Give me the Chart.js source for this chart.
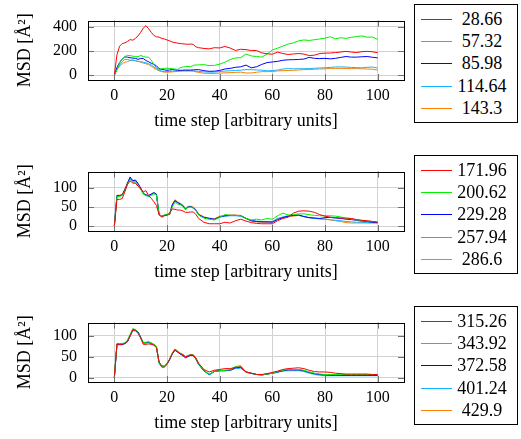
<!DOCTYPE html>
<html>
<head>
<meta charset="utf-8">
<script src="https://cdn.jsdelivr.net/npm/chart.js@4.4.1/dist/chart.umd.min.js"></script>
<style>
  body { margin: 0; background: #fff; width: 521px; height: 439px; overflow: hidden; position: relative; font-family: "Liberation Serif", serif; }
  canvas { position: absolute; left: 0; }
  .legend { position: absolute; left: 414px; width: 102px; height: 117px; border: 1px solid #000; background: #fff; }
  .row { position: absolute; left: 0; right: 0; height: 22px; }
  .row .line { position: absolute; left: 6px; width: 31px; top: 11px; height: 0; border-top: 1px solid; }
  .row .txt { position: absolute; left: 40px; width: 54px; text-align: center; font-size: 18px; line-height: 22px; top: 0; color: #000; }
</style>
</head>
<body>
<canvas id="c1" width="521" height="137" style="top:0px"></canvas>
<canvas id="c2" width="521" height="137" style="top:151px"></canvas>
<canvas id="c3" width="521" height="137" style="top:302px"></canvas>
<div class="legend" id="l1" style="top:4px"></div>
<div class="legend" id="l2" style="top:155px"></div>
<div class="legend" id="l3" style="top:306px"></div>
<script>
// time axis (shared by all panels)
const timeSteps = [0, 1, 2, 3, 4, 5, 6, 7, 8, 9, 10, 11, 12, 13, 14, 15, 16, 17, 18, 19, 20,
  21, 22, 23, 24, 25, 26, 27, 28, 29, 30, 31, 32,
  34, 36, 38, 40, 42, 44, 46, 48, 50, 52, 54, 56, 58, 60, 62, 64, 66, 68, 70,
  72, 74, 76, 78, 80, 82, 84, 86, 88, 90, 92, 94, 96, 98, 100];
const xTickValues = [0, 20, 40, 60, 80, 100];

const lineColors = ['#ff0000', '#00f000', '#0000ff', '#10b4ff', '#ff8000'];

// panel 1
const labels1 = ['28.66', '57.32', '85.98', '114.64', '143.3'];
const msd28 = [0, 170, 240, 262, 268, 280, 295, 290, 305, 325, 355, 390, 410, 385, 355, 330, 318, 315, 305, 300,
  292, 285, 275, 270, 266, 262, 260, 258, 256, 258, 255, 235, 228,
  222, 218, 228, 226, 238, 225, 205, 215, 212, 205, 205, 185, 178, 174, 192, 180, 172, 176, 180, 175,
  163, 166, 180, 183, 184, 188, 192, 198, 192, 188, 195, 198, 194, 187];
const msd57 = [0, 45, 100, 135, 155, 165, 162, 158, 155, 153, 165, 155, 150, 150, 125, 90, 62, 48, 54, 57,
  58, 57, 55, 52, 48, 62, 68, 72, 73, 70, 82, 85, 86,
  88, 80, 82, 92, 108, 130, 143, 146, 176, 160, 155, 150, 175, 209, 224, 241, 258, 268, 285, 292,
  288, 294, 300, 307, 318, 302, 310, 305, 314, 320, 325, 315, 316, 297];
const msd85 = [0, 65, 105, 135, 152, 150, 145, 142, 140, 132, 138, 138, 122, 112, 100, 90, 78, 55, 48, 45,
  41, 44, 47, 45, 42, 41, 42, 43, 43, 43, 45, 46, 47,
  38, 33, 34, 40, 52, 57, 66, 70, 84, 62, 70, 90, 105, 110, 115, 124, 128, 129, 131, 134,
  148, 140, 138, 140, 136, 140, 148, 155, 150, 150, 153, 155, 149, 144];
const msd114 = [0, 50, 85, 112, 132, 130, 125, 123, 120, 115, 112, 108, 103, 96, 85, 70, 55, 42, 35, 30,
  30, 32, 34, 36, 37, 37, 37, 37, 37, 37, 36, 34, 32,
  28, 26, 26, 31, 35, 37, 40, 42, 47, 46, 44, 42, 37, 39, 43, 52, 55, 54, 54, 54,
  55, 58, 60, 62, 65, 69, 69, 68, 65, 63, 62, 66, 68, 60];
const msd143 = [0, 45, 75, 95, 108, 112, 122, 127, 120, 115, 108, 101, 95, 88, 75, 60, 48, 37, 30, 26,
  26, 26, 28, 30, 32, 35, 37, 37, 37, 37, 35, 28, 24,
  17, 15, 15, 18, 20, 22, 24, 26, 19, 19, 25, 30, 30, 31, 36, 38, 40, 41, 44, 47,
  48, 50, 52, 53, 57, 57, 57, 56, 55, 55, 53, 52, 50, 43];

// panel 2
const labels2 = ['171.96', '200.62', '229.28', '257.94', '286.6'];
const msd171 = [0, 70, 70, 72, 90, 110, 118, 113, 112, 105, 97, 90, 93, 80, 73, 64, 54, 30, 23, 27,
  28, 34, 45, 44, 42, 42, 40, 36, 36, 37, 37, 30, 20,
  10, 6, 6, 6, 10, 8, 14, 18, 13, 9, 7, 6, 6, 6, 14, 20, 23, 34, 39, 40,
  39, 36, 30, 26, 23, 22, 21, 21, 20, 17, 15, 14, 12, 10];
const msd200 = [0, 78, 78, 80, 92, 110, 122, 116, 115, 108, 97, 84, 80, 78, 80, 85, 82, 30, 26, 29,
  31, 31, 50, 62, 58, 56, 52, 43, 49, 50, 47, 40, 29,
  21, 18, 16, 23, 30, 28, 28, 27, 20, 16, 18, 16, 20, 18, 27, 34, 29, 30, 32, 32,
  30, 28, 27, 27, 27, 26, 24, 20, 19, 16, 15, 13, 12, 11];
const msd229 = [0, 80, 80, 82, 96, 113, 129, 119, 121, 112, 100, 86, 82, 80, 84, 88, 84, 30, 26, 28,
  30, 30, 55, 67, 62, 58, 53, 44, 50, 51, 48, 41, 30,
  23, 20, 18, 24, 27, 28, 28, 27, 20, 14, 12, 11, 11, 10, 17, 22, 26, 28, 29, 25,
  22, 21, 20, 22, 23, 21, 20, 18, 17, 15, 13, 12, 10, 9];
const msd257 = [0, 79, 79, 81, 94, 111, 126, 117, 119, 110, 98, 85, 80, 79, 82, 86, 82, 29, 25, 28,
  30, 32, 56, 66, 61, 58, 55, 45, 50, 50, 48, 41, 29,
  22, 19, 17, 23, 26, 27, 27, 26, 20, 15, 13, 12, 12, 12, 20, 24, 27, 28, 28, 25,
  22, 20, 19, 18, 17, 15, 14, 12, 11, 10, 10, 9, 9, 8];
const msd286 = [0, 81, 81, 83, 97, 114, 124, 120, 118, 110, 100, 86, 81, 80, 84, 87, 83, 31, 26, 29,
  31, 32, 57, 69, 64, 60, 55, 47, 52, 52, 50, 43, 32,
  24, 21, 19, 26, 28, 29, 29, 28, 20, 13, 11, 10, 10, 11, 19, 23, 25, 26, 28, 25,
  22, 21, 19, 18, 16, 14, 12, 9, 8, 8, 8, 8, 8, 8];

// panel 3
const labels3 = ['315.26', '343.92', '372.58', '401.24', '429.9'];
const msd315 = [0, 81, 80, 80, 82, 87, 100, 114, 113, 107, 95, 80, 80, 81, 80, 78, 72, 38, 29, 28,
  34, 44, 58, 67, 62, 58, 55, 50, 52, 55, 54, 47, 35,
  20, 14, 18, 20, 22, 22, 25, 26, 14, 11, 8, 8, 10, 13, 16, 20, 22, 23, 24, 22,
  18, 15, 14, 14, 13, 11, 10, 9, 9, 9, 9, 9, 8, 8];
const msd343 = [0, 82, 82, 82, 84, 90, 104, 118, 115, 108, 96, 84, 85, 86, 83, 80, 75, 36, 27, 27,
  33, 45, 59, 69, 64, 59, 56, 51, 53, 56, 55, 46, 33,
  18, 8, 15, 17, 18, 19, 27, 29, 14, 11, 8, 7, 9, 11, 15, 18, 20, 20, 20, 18,
  14, 11, 9, 8, 8, 8, 8, 8, 8, 8, 8, 8, 8, 8];
const msd372 = [0, 80, 80, 80, 82, 87, 101, 115, 114, 110, 97, 84, 84, 85, 82, 79, 73, 36, 26, 26,
  32, 43, 57, 66, 62, 57, 53, 48, 51, 54, 53, 45, 32,
  17, 8, 15, 17, 17, 18, 24, 25, 14, 11, 8, 7, 9, 11, 14, 17, 19, 19, 19, 17,
  13, 10, 8, 7, 6, 6, 6, 6, 6, 6, 6, 6, 6, 6];
const msd401 = [0, 79, 79, 79, 82, 86, 100, 113, 112, 107, 95, 82, 83, 84, 82, 79, 73, 35, 26, 26,
  33, 44, 57, 66, 62, 57, 54, 49, 51, 54, 53, 45, 32,
  17, 7, 15, 17, 17, 18, 22, 23, 13, 10, 8, 7, 9, 11, 13, 16, 17, 17, 17, 15,
  11, 8, 6, 5, 5, 5, 5, 5, 5, 5, 5, 5, 5, 5];
const msd429 = [0, 81, 81, 81, 83, 88, 103, 115, 116, 109, 97, 83, 84, 86, 84, 80, 75, 37, 27, 27,
  34, 45, 59, 69, 64, 59, 56, 51, 53, 56, 55, 47, 34,
  18, 8, 16, 18, 18, 19, 25, 26, 14, 11, 8, 7, 9, 11, 14, 17, 19, 19, 19, 17,
  13, 10, 8, 7, 7, 7, 7, 7, 7, 7, 7, 7, 7, 7];

const fontFamily = '"Liberation Serif", "DejaVu Serif", serif';

// frame + inward tick marks, like pgfplots
const framePlugin = {
  id: 'frame',
  afterDatasetsDraw(chart) {
    const { ctx, chartArea: a, scales: { x, y } } = chart;
    ctx.save();
    ctx.strokeStyle = '#707070';
    ctx.lineWidth = 1;
    ctx.beginPath();
    x.ticks.forEach(t => {
      const px = Math.round(x.getPixelForValue(t.value)) + 0.5;
      ctx.moveTo(px, a.top); ctx.lineTo(px, a.top + 6);
      ctx.moveTo(px, a.bottom); ctx.lineTo(px, a.bottom - 6);
    });
    y.ticks.forEach(t => {
      const py = Math.round(y.getPixelForValue(t.value)) + 0.5;
      ctx.moveTo(a.left, py); ctx.lineTo(a.left + 6, py);
      ctx.moveTo(a.right, py); ctx.lineTo(a.right - 6, py);
    });
    ctx.stroke();
    ctx.strokeStyle = '#000';
    ctx.strokeRect(Math.round(a.left) + 0.5, Math.round(a.top) + 0.5,
      Math.round(a.right - a.left), Math.round(a.bottom - a.top));
    ctx.restore();
  }
};

function makePanel(canvasId, legendId, series, labels, yMin, yMax, yTicks) {
  const datasets = series.map((s, i) => ({
    label: labels[i],
    data: s.map((v, k) => ({ x: timeSteps[k], y: v })),
    borderColor: lineColors[i],
    borderWidth: 1,
    pointRadius: 0,
    fill: false,
    tension: 0
  }));

  new Chart(document.getElementById(canvasId), {
    type: 'line',
    data: { datasets: datasets },
    options: {
      responsive: false,
      animation: false,
      devicePixelRatio: 1,
      layout: { padding: { top: 4, right: 117, left: 0, bottom: 0 } },
      plugins: { legend: { display: false }, tooltip: { enabled: false } },
      scales: {
        x: {
          type: 'linear', min: -10, max: 110,
          afterBuildTicks: s => { s.ticks = xTickValues.map(v => ({ value: v })); },
          afterFit: s => { s.height = 57; },
          grid: { color: '#d2d2d2', drawTicks: false },
          border: { display: false },
          ticks: { padding: 6, color: '#000', font: { family: fontFamily, size: 16 } },
          title: { display: true, text: 'time step [arbitrary units]', color: '#000',
            font: { family: fontFamily, size: 18 }, padding: { top: 0, bottom: 5 } }
        },
        y: {
          min: yMin, max: yMax,
          afterBuildTicks: s => { s.ticks = yTicks.map(v => ({ value: v })); },
          afterFit: s => { s.width = 88; },
          grid: { color: '#d2d2d2', drawTicks: false },
          border: { display: false },
          ticks: { padding: 11, color: '#000', font: { family: fontFamily, size: 16 } },
          title: { display: true, text: 'MSD [Å²]', color: '#000',
            font: { family: fontFamily, size: 18 }, padding: { top: 14, bottom: 0 } }
        }
      }
    },
    plugins: [framePlugin]
  });

  // legend box
  const box = document.getElementById(legendId);
  labels.forEach((lab, i) => {
    const row = document.createElement('div');
    row.className = 'row';
    row.style.top = (3 + 22.2 * i) + 'px';
    row.innerHTML = '<span class="line" style="border-color:' + lineColors[i] + '"></span>' +
      '<span class="txt">' + lab + '</span>';
    box.appendChild(row);
  });
}

makePanel('c1', 'l1', [msd28, msd57, msd85, msd114, msd143], labels1, -39, 452, [0, 200, 400]);
makePanel('c2', 'l2', [msd171, msd200, msd229, msd257, msd286], labels2, -13, 143, [0, 50, 100]);
makePanel('c3', 'l3', [msd315, msd343, msd372, msd401, msd429], labels3, -10, 132, [0, 50, 100]);
</script>
</body>
</html>
